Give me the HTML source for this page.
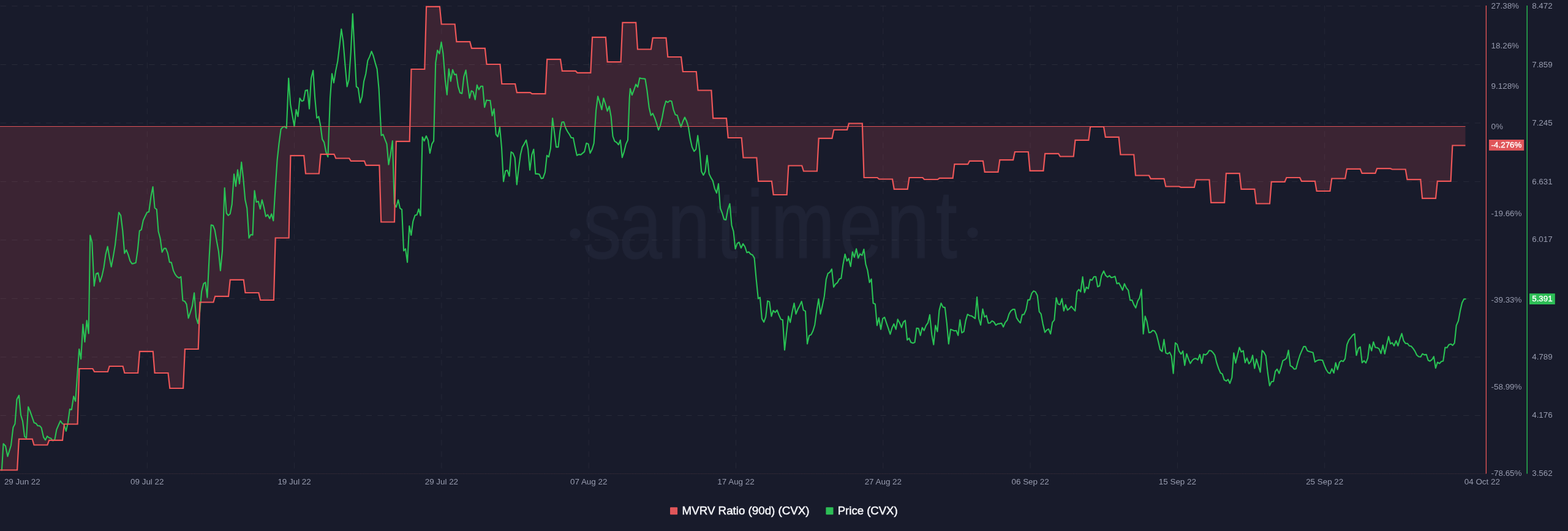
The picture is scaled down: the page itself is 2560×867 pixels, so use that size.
<!DOCTYPE html>
<html lang="en"><head><meta charset="utf-8"><title>MVRV Ratio (90d) (CVX) / Price (CVX)</title>
<style>html,body{margin:0;padding:0;background:#181b2b;}body{width:2560px;height:867px;overflow:hidden;}svg{display:block;}text{font-family:"Liberation Sans",Arial,Helvetica,sans-serif;}</style></head><body>
<svg width="2560" height="867" viewBox="0 0 2560 867">
<rect width="2560" height="867" fill="#181b2b"/>
<g fill="#1f2335" stroke="#1f2335" stroke-width="1.7" stroke-linejoin="round">
<circle cx="939" cy="381.4" r="7.9"/><circle cx="1588" cy="379.9" r="7.9"/>
<text transform="scale(0.8,1)" x="1189.8 1263.3 1361.9 1462.2 1523.5 1573 1712.9 1809.3 1909.7" y="421" font-size="157">santiment</text>
</g>
<path d="M0 767.5 L28.1 767.5 L30.9 716.8 L52.7 716.8 L55.5 726.5 L77.4 726.5 L80.2 718.8 L102 718.8 L104.8 692.5 L126.6 692.5 L129.4 602 L151.3 602 L154.1 607 L175.9 607 L178.7 598 L200.6 598 L203.4 609 L225.2 609 L228 573.8 L249.8 573.8 L252.6 609 L274.5 609 L277.3 634 L299.1 634 L301.9 570 L323.7 570 L326.5 493.5 L348.4 493.5 L351.2 483.8 L373 483.8 L375.8 456.8 L397.7 456.8 L400.5 478 L422.3 478 L425.1 490 L446.9 490 L449.7 388.5 L471.6 388.5 L474.4 254.2 L496.2 254.2 L499 283.5 L520.8 283.5 L523.6 251.8 L545.5 251.8 L548.3 258.5 L570.1 258.5 L572.9 262.8 L594.8 262.8 L597.6 269.8 L619.4 269.8 L622.2 362.5 L644 362.5 L646.8 230.8 L668.7 230.8 L671.5 113 L693.3 113 L696.1 10.8 L717.9 10.8 L720.7 39.5 L742.6 39.5 L745.4 68.2 L767.2 68.2 L770 78.8 L791.8 78.8 L794.6 105 L816.5 105 L819.3 137 L841.1 137 L843.9 151.2 L865.8 151.2 L868.6 153.2 L890.4 153.2 L893.2 96.8 L915 96.8 L917.8 115.8 L939.7 115.8 L942.5 118.8 L964.3 118.8 L967.1 60.8 L988.9 60.8 L991.7 101.2 L1013.6 101.2 L1016.4 36.8 L1038.2 36.8 L1041 80.5 L1062.9 80.5 L1065.7 61.8 L1087.5 61.8 L1090.3 93 L1112.1 93 L1114.9 117 L1136.8 117 L1139.6 147.5 L1161.4 147.5 L1164.2 193.2 L1186 193.2 L1188.8 225 L1210.7 225 L1213.5 257.5 L1235.3 257.5 L1238.1 295.8 L1259.9 295.8 L1262.7 318 L1284.6 318 L1287.4 270.5 L1309.2 270.5 L1312 279.5 L1333.9 279.5 L1336.7 225.8 L1358.5 225.8 L1361.3 212 L1383.1 212 L1385.9 201.5 L1407.8 201.5 L1410.6 290 L1432.4 290 L1435.2 292.5 L1457 292.5 L1459.8 308.8 L1481.7 308.8 L1484.5 290 L1506.3 290 L1509.1 293 L1531 293 L1533.8 290.8 L1555.6 290.8 L1558.4 268.2 L1580.2 268.2 L1583 262.8 L1604.9 262.8 L1607.7 280.8 L1629.5 280.8 L1632.3 261.2 L1654.1 261.2 L1656.9 248 L1678.8 248 L1681.6 278.8 L1703.4 278.8 L1706.2 250.8 L1728.1 250.8 L1730.9 255.5 L1752.7 255.5 L1755.5 228.8 L1777.3 228.8 L1780.1 207 L1802 207 L1804.8 223.8 L1826.6 223.8 L1829.4 252.5 L1851.2 252.5 L1854 286.5 L1875.9 286.5 L1878.7 291.8 L1900.5 291.8 L1903.3 304.5 L1925.1 304.5 L1927.9 305.8 L1949.8 305.8 L1952.6 293.5 L1974.4 293.5 L1977.2 330.8 L1999.1 330.8 L2001.9 283.2 L2023.7 283.2 L2026.5 308.8 L2048.3 308.8 L2051.1 332.5 L2073 332.5 L2075.8 296.8 L2097.6 296.8 L2100.4 290 L2122.2 290 L2125 295.8 L2146.9 295.8 L2149.7 312 L2171.5 312 L2174.3 291.5 L2196.2 291.5 L2199 275.8 L2220.8 275.8 L2223.6 282.8 L2245.4 282.8 L2248.2 275.2 L2270.1 275.2 L2272.9 276.5 L2294.7 276.5 L2297.5 293.2 L2319.3 293.2 L2322.1 323.8 L2344 323.8 L2346.8 295.8 L2368.6 295.8 L2371.4 237.5 L2392.5 237.5 L2392.5 206.4 L0 206.4 Z" fill="#3b2433"/>
<g stroke="#ffffff" stroke-opacity="0.07" stroke-width="1" stroke-dasharray="9.3 9.36" fill="none">
<line x1="0.6" y1="9.9" x2="2417" y2="9.9"/>
<line x1="0.6" y1="105.5" x2="2417" y2="105.5"/>
<line x1="0.6" y1="200.9" x2="2417" y2="200.9"/>
<line x1="0.6" y1="296.4" x2="2417" y2="296.4"/>
<line x1="0.6" y1="391.9" x2="2417" y2="391.9"/>
<line x1="0.6" y1="487.4" x2="2417" y2="487.4"/>
<line x1="0.6" y1="583" x2="2417" y2="583"/>
<line x1="0.6" y1="678.5" x2="2417" y2="678.5"/>
</g>
<g stroke="#ffffff" stroke-opacity="0.06" stroke-width="1" stroke-dasharray="9.3 9.36" fill="none">
<line x1="240.3" y1="9" x2="240.3" y2="773"/>
<line x1="480.6" y1="9" x2="480.6" y2="773"/>
<line x1="720.9" y1="9" x2="720.9" y2="773"/>
<line x1="961.2" y1="9" x2="961.2" y2="773"/>
<line x1="1201.5" y1="9" x2="1201.5" y2="773"/>
<line x1="1441.8" y1="9" x2="1441.8" y2="773"/>
<line x1="1682.1" y1="9" x2="1682.1" y2="773"/>
<line x1="1922.4" y1="9" x2="1922.4" y2="773"/>
<line x1="2162.7" y1="9" x2="2162.7" y2="773"/>
</g>
<line x1="0" y1="773.5" x2="2426" y2="773.5" stroke="#40303d" stroke-width="1" stroke-dasharray="1.2 1.2"/>
<path d="M2.9 767.6 L5.5 724.5 L9 728.2 L12.5 745.2 L18 727.2 L21.5 697.7 L24.5 691.9 L27.5 651.9 L31 645.6 L34 677.6 L37 687.7 L40.1 712.7 L43.1 715.2 L46.1 664.4 L49.1 671.4 L55.6 690.2 L58.6 691.2 L61.6 695.2 L64.6 695.2 L67.6 698.4 L71.1 713.9 L74.1 718.4 L77.1 712.2 L80.1 714.7 L83.1 715.7 L86.4 719.7 L89.4 717.7 L92.4 701.4 L98.6 687.2 L101.6 691.4 L104.6 693.2 L107.9 703.9 L110.9 690.2 L113.9 668.1 L116.9 668.9 L120.2 647.1 L123.2 655.1 L129.2 570 L132.2 586.3 L135.4 529.5 L138.4 558.3 L141.7 523.2 L144.7 544.5 L147.2 384.3 L150.2 395.6 L153.7 466.9 L156.9 446.9 L160.2 445.6 L163.2 460.1 L166.5 450.6 L169.5 436.9 L172.5 415.6 L175.7 402.6 L178.7 420.6 L181.7 435.6 L185 418.1 L188 400.1 L191 373 L194 346.8 L197.2 351.8 L200.3 376.8 L203.3 413.6 L206.3 408.1 L209.3 415.6 L212.5 426.4 L215.5 430.6 L218.5 430.1 L221.8 428.9 L224.8 408.1 L227.8 376.8 L230.8 375 L233.8 360 L237 353 L240.1 346.8 L243.1 346 L246.6 320 L249.6 305 L252.6 339.5 L255.8 341.8 L258.6 378 L261.6 389.3 L264.6 411.8 L267.8 405.6 L270.8 405.6 L273.8 413.1 L276.8 428.1 L279.8 428.6 L283.1 441.9 L286.1 448.1 L289.1 451.9 L292.4 453.9 L295.4 451.9 L298.4 490.7 L301.6 491.9 L304.6 496.9 L307.6 519.5 L310.9 509.5 L313.9 499.4 L317.1 478.2 L320.2 518.2 L323.2 528.2 L326.2 509.5 L329.2 475.7 L332.4 463.2 L335.4 461.1 L338.4 485.7 L341.7 418.1 L344.7 367.3 L347.7 368 L350.7 375.5 L353.7 393.1 L356.9 410.6 L359.9 441.9 L363 409.3 L366.7 306.7 L369.7 348 L372.7 351.8 L375.7 349.3 L378.7 333.8 L382 284.2 L385 304.2 L388 277.4 L391 300 L394.2 264.9 L397.2 291.2 L400.3 326.3 L403.3 340 L406.5 388.6 L409.5 383.1 L412.5 383.8 L415.5 311.2 L418.5 330 L421.8 328.8 L424.8 341.3 L427.8 326.3 L431 338.8 L434 353.5 L437 350.5 L440.3 356.8 L443.3 349.3 L446.3 360.5 L449.3 311.2 L452.6 261.2 L455.6 233.6 L458.6 211.1 L461.8 207.4 L464.8 206.6 L467.8 209.4 L471.2 127.7 L474.2 170.2 L477.2 187.7 L480.5 206.5 L483.5 179 L486.5 190.2 L489.5 160.2 L492.7 165.2 L495.7 164 L498.7 147.7 L502 146.9 L505 177.7 L508 127.7 L511.2 115.1 L514.2 160.2 L517.2 192.7 L520.3 190.2 L523.3 205.3 L526.2 227.4 L529.2 232.4 L532.4 248.7 L535.4 256.2 L539 160.2 L542 120.2 L545 135.2 L548 116.4 L551.3 100.1 L554.3 75.1 L557.3 47.6 L560.3 67.6 L563.6 107.6 L566.6 141.4 L569.6 130.2 L572.8 85.1 L575.8 22.5 L578.8 82.6 L581.8 141.4 L584.8 143.9 L588.1 167.7 L591.1 157.7 L594.1 132.7 L597.3 120.2 L600.4 98.9 L603.4 92.6 L606.6 83.9 L609.6 91.4 L612.6 102.6 L615.6 112.6 L618.6 145.2 L622.5 221.3 L625.5 219.5 L628.5 227.5 L631.5 235.1 L634.5 268.8 L637.5 252.6 L640.8 230.1 L643.8 332.7 L646.8 338.2 L650.1 326.4 L653.1 340.2 L656.1 342.2 L659.1 409.5 L662.1 406.3 L665.1 428.3 L668.3 369 L671.3 384 L674.3 361.5 L677.6 351.5 L680.6 350.7 L683.6 341.4 L686.6 352.2 L689.6 223.8 L692.6 230.1 L695.9 222 L698.9 228.8 L701.9 250.1 L705.1 235.1 L708.1 230.1 L711.2 102.6 L714.2 82.1 L717.5 87.6 L720.5 68.8 L723.5 87.6 L726.8 130.2 L729.8 154.7 L732.8 112.6 L735.8 132.7 L739 113.9 L742 121.9 L745 121.4 L748 141.4 L751 151.4 L754.3 152.7 L757.3 125.2 L760.6 114.6 L763.6 138.9 L766.6 160.2 L769.6 148.2 L772.6 150.2 L775.8 162.7 L778.8 138.9 L781.8 146.4 L785.1 140.7 L788.1 140.7 L791.1 175.2 L794.3 163.5 L797.3 164 L800.4 164 L803.6 189 L806.6 177.7 L809.8 219.5 L812.8 223.3 L816 207.5 L819 241.3 L822 296.4 L825.3 278.9 L828.3 278.1 L831.5 287.6 L834.5 248.1 L837.5 250.1 L840.6 257.6 L843.8 301.4 L846.8 275.1 L849.8 252.6 L852.8 240.1 L855.8 235.1 L859.1 228.8 L862.1 243.8 L865.1 277.6 L868.3 252.6 L871.3 243.8 L874.3 283.9 L877.3 283.9 L880.6 284.6 L883.6 291.4 L886.6 290.9 L889.9 281.4 L892.9 253.8 L895.9 256.3 L898.9 242.6 L902.1 193 L905.1 216.3 L908.1 240.1 L911.4 240.1 L914.4 213.8 L917.4 199.5 L920.4 199 L923.7 209.5 L926.7 215 L929.7 219.5 L932.7 225 L935.9 225 L938.9 240.1 L941.9 253.8 L944.9 252.1 L948.2 252.6 L951.2 250.1 L954.2 247.6 L957.4 233.8 L960.5 235.1 L963.5 250.1 L966.7 243.8 L969.7 233.8 L973.1 180.2 L976.1 157.2 L979.3 167.7 L982.4 179 L985.4 160.2 L988.6 170.2 L991.6 181.5 L994.6 173.5 L997.6 190.2 L1000.5 222.5 L1003.5 230.6 L1006.8 232.6 L1009.8 236.3 L1012.8 228.8 L1015.8 257.1 L1019 247.6 L1022 235.1 L1025 228.8 L1027.7 160.2 L1028.9 144.7 L1031.9 155.2 L1035.2 146.4 L1038.2 137.7 L1041.2 142.2 L1044.4 127.2 L1047.4 128.2 L1050.4 128.4 L1053.4 128.9 L1056.4 147.7 L1059.7 175.2 L1062.7 188.5 L1065.7 185.2 L1069 192.7 L1072 201.5 L1075 212.3 L1078 205.3 L1081.2 191.5 L1084.2 175.2 L1087.2 165.2 L1090.2 167.2 L1093.5 164.5 L1096.5 165.2 L1099.5 179 L1102.5 187.2 L1105.8 188.2 L1108.8 198.5 L1111.8 207.3 L1114.8 198.5 L1118 191.5 L1121 197.7 L1124 207.8 L1126.9 226.3 L1129.9 240.1 L1133.2 247.1 L1136.2 243.8 L1139.2 221.3 L1142.2 245.1 L1145.2 280.1 L1148.4 285.9 L1151.4 280.1 L1154.4 253.8 L1157.7 283.9 L1160.7 290.1 L1163.7 295.1 L1166.7 307.6 L1170 315.2 L1173 300.1 L1176 340.2 L1179 347.7 L1182.2 358.2 L1185.2 359 L1188.2 342.7 L1191.5 332.7 L1194.5 367.7 L1197.5 377.7 L1200.6 406.3 L1203.6 397.5 L1206.6 395.5 L1209.9 405 L1213.1 398 L1216.1 402.5 L1219.4 412.5 L1222.4 411.3 L1225.6 415 L1228.6 416.3 L1231.6 421.3 L1234.6 455.1 L1237.9 487.6 L1240.9 485.6 L1243.9 520.2 L1247.2 525.9 L1250.2 517.7 L1253.2 491.4 L1256.2 492.6 L1259.4 516.4 L1262.4 507.1 L1265.7 510.2 L1268.7 506.4 L1271.7 514.4 L1274.9 521.4 L1277.9 522.2 L1281 571.5 L1284.2 542.7 L1287.2 516.4 L1290.2 526.4 L1293.2 510.2 L1296.5 495.1 L1299.5 512.7 L1302.5 505.1 L1305.7 498.9 L1308.7 492.1 L1311.7 506.4 L1315 508.1 L1318 561.5 L1321 548.2 L1324.3 546.4 L1327.3 540.2 L1330.3 530.2 L1333.3 507.6 L1336.5 488.1 L1339.5 512.7 L1342.5 500.1 L1345.8 483.9 L1348.8 456.3 L1351.8 446.3 L1354.8 444.6 L1358 439.3 L1361.1 468.8 L1364.1 463.8 L1367.3 461.3 L1370.3 455.6 L1373.3 454.6 L1376.3 432.6 L1379.6 415 L1382.6 426.3 L1385.6 422 L1388.8 435.1 L1391.8 411.3 L1394.8 420 L1398.1 406.3 L1401.1 421.3 L1404.1 414.5 L1407.4 417 L1410.4 407 L1413.4 431.3 L1416.4 441.3 L1419.6 461.3 L1422.6 455.6 L1425.6 495.1 L1428.9 496.4 L1431.9 531.4 L1434.9 518.9 L1438.1 537.7 L1441.2 520.2 L1444.2 518.2 L1447.2 527.2 L1450.4 536.4 L1453.4 545.7 L1456.4 535.2 L1459.4 528.9 L1462.7 537.7 L1465.7 521.4 L1468.7 527.2 L1471.9 534.7 L1474.9 525.9 L1477.9 523.2 L1481.2 555.2 L1484.2 552.2 L1487.2 559 L1490.5 560.2 L1493.5 559 L1496.5 535.7 L1499.7 536.4 L1502.7 547.7 L1505.7 534.7 L1508.7 539.7 L1512 531.4 L1515 527.2 L1518 513.9 L1521.3 546.4 L1524.3 562.7 L1527.3 531.4 L1530.5 541.4 L1533.5 506.4 L1536.5 495.1 L1539.5 501.4 L1542.8 502.1 L1545.8 527.7 L1548.8 561.5 L1552 537.7 L1555 538.9 L1558 540.2 L1561.3 539.7 L1564.3 547.7 L1567.3 522.2 L1570.3 543.4 L1573.6 541.4 L1576.6 523.9 L1579.6 513.2 L1582.8 515.2 L1585.8 515.7 L1588.8 517.7 L1592.1 520.2 L1595.1 485.1 L1598.1 520.2 L1601.1 530.7 L1604.4 504.6 L1607.4 517.7 L1610.4 515.2 L1613.6 527.7 L1616.6 527.2 L1619.6 523.9 L1622.9 525.9 L1625.9 530.9 L1628.9 528.9 L1631.9 528.4 L1635.1 527.7 L1638.1 533.9 L1641.2 526.4 L1644.4 522.7 L1647.4 512.7 L1650.4 507.6 L1653.7 505.1 L1656.7 505.1 L1659.7 518.9 L1662.9 523.9 L1665.9 527.2 L1668.9 513.9 L1671.9 513.4 L1675.2 505.6 L1678.2 489.6 L1681.2 489.6 L1684.5 478.9 L1687.5 475.1 L1690.5 476.4 L1693.7 482.6 L1696.7 508.9 L1699.7 512.7 L1702.7 528.9 L1706 542.7 L1709 538.9 L1712 537.2 L1715.2 545.2 L1718.2 526.4 L1721.3 522.7 L1724.5 486.4 L1727.5 496.4 L1730.5 497.6 L1733.8 487.6 L1736.8 507.6 L1739.8 497.6 L1742.8 506.4 L1746 503.9 L1749 500.1 L1752 503.9 L1755.3 507.6 L1758.3 476.4 L1761.3 472.6 L1764.3 476.4 L1767.6 452.1 L1770.6 477.6 L1773.6 468.8 L1776.8 471.4 L1779.8 456.3 L1782.8 457.6 L1786.1 451.8 L1789.1 451.8 L1792.1 468.3 L1795.3 466.8 L1798.3 450.1 L1802 442.5 L1805 449.5 L1808.3 452.5 L1811.3 450 L1814.3 453.3 L1817.5 452.5 L1820.5 451.3 L1823.5 463.3 L1826.8 462 L1829.8 467.5 L1832.8 473.8 L1835.8 463.3 L1839 470.1 L1842.1 473.8 L1845.1 490.1 L1848.3 490.1 L1851.3 497.6 L1854.3 502.6 L1857.6 491.3 L1860.6 486.3 L1863.6 472.6 L1866.6 545.1 L1869.6 516.4 L1872.6 525.1 L1875.8 543.1 L1878.8 542.6 L1881.9 539.6 L1885.1 540.6 L1888.1 545.9 L1891.1 557.7 L1894.1 570.9 L1897.4 573.9 L1900.4 554.4 L1903.4 576.4 L1906.6 577.7 L1909.6 575.2 L1912.6 581.4 L1915.6 609.7 L1918.9 559.7 L1921.9 562.2 L1924.9 573.2 L1928.2 578.2 L1931.2 573.2 L1934.2 596.5 L1937.4 577.7 L1940.4 586.4 L1943.4 593.5 L1946.7 588.2 L1949.7 585.7 L1952.7 585.2 L1955.7 587.7 L1958.9 578.9 L1962 593.2 L1965 578.2 L1968.2 579.4 L1971.2 577.2 L1974.2 572.2 L1977.5 572.7 L1980.5 575.9 L1983.5 580.2 L1986.5 592.7 L1989.7 602.2 L1992.7 609 L1995.7 610.7 L1998.7 620.2 L2002 622.2 L2005 619.5 L2008 626 L2011.3 616.5 L2014.3 576.4 L2017.3 592.7 L2020.5 579.4 L2023.5 567.2 L2026.5 574.7 L2029.8 572.7 L2032.8 592.2 L2035.8 584.7 L2039 594 L2042.1 590.2 L2045.1 580.2 L2048.3 601.5 L2051.3 586.4 L2054.3 596.5 L2057.6 607.7 L2060.6 572.2 L2063.6 575.2 L2066.6 580.9 L2069.8 609 L2072.8 629.7 L2075.8 623.2 L2079.1 622.7 L2082.1 606.5 L2085.1 602.7 L2088.4 609.7 L2091.4 600.2 L2094.4 588.9 L2097.6 587.2 L2100.6 584.7 L2103.6 571.9 L2106.6 597.2 L2109.9 599 L2112.9 602.7 L2115.9 602.2 L2119.1 590.2 L2122.2 580.2 L2125.2 573.2 L2128.4 565.9 L2131.4 565.9 L2134.4 572.7 L2137.7 573.9 L2140.7 574.7 L2143.7 575.7 L2146.9 591 L2149.9 588.9 L2152.9 587.7 L2155.9 587.7 L2159.2 588.2 L2162.2 596.5 L2165.2 603.5 L2168.5 608.5 L2171.5 609.7 L2174.5 602.2 L2177.7 609 L2180.7 592.2 L2183.7 603.5 L2187 591.5 L2190 588.9 L2193 590.2 L2196 585.9 L2199.2 562.7 L2202.3 555.2 L2205.3 551.4 L2208.5 547.1 L2211.5 545.1 L2214.5 580.2 L2217.8 568.9 L2220.8 566.4 L2223.8 592.2 L2227 588.9 L2230 592.7 L2233 585.2 L2236 562.2 L2239.3 572.7 L2242.3 558.2 L2245.3 567.2 L2248.6 567.7 L2251.6 569.7 L2254.6 577.2 L2257.8 563.4 L2260.8 577.7 L2263.8 563.9 L2267.1 549.6 L2270.1 561.4 L2273.1 559.7 L2276.1 564.7 L2279.3 556.4 L2282.4 564.7 L2285.4 553.9 L2288.6 544.6 L2291.6 556.4 L2294.6 560.7 L2297.9 560.9 L2300.9 564.7 L2303.9 565.2 L2307.1 568.9 L2310.1 573.4 L2313.1 579.7 L2316.1 582.2 L2319.4 582.7 L2322.4 577.7 L2325.4 579.4 L2328.7 578.9 L2331.7 588.2 L2334.7 589.7 L2337.9 587.2 L2340.9 582.2 L2343.9 601 L2346.9 591.5 L2350.2 593.5 L2353.2 590.2 L2356.2 589.4 L2359.4 567.2 L2362.5 567.7 L2365.5 562.7 L2368.7 561.7 L2371.7 563.9 L2374.7 560.2 L2377.7 531.4 L2381 523.9 L2384 507.6 L2387 494.6 L2390.2 488.3 L2392.7 488.3" fill="none" stroke="#29c254" stroke-width="2.1" stroke-linejoin="round" stroke-linecap="round"/>
<line x1="0" y1="206.4" x2="2392.5" y2="206.4" stroke="#de5357" stroke-width="1.05"/>
<path d="M0 767.5 L28.1 767.5 L30.9 716.8 L52.7 716.8 L55.5 726.5 L77.4 726.5 L80.2 718.8 L102 718.8 L104.8 692.5 L126.6 692.5 L129.4 602 L151.3 602 L154.1 607 L175.9 607 L178.7 598 L200.6 598 L203.4 609 L225.2 609 L228 573.8 L249.8 573.8 L252.6 609 L274.5 609 L277.3 634 L299.1 634 L301.9 570 L323.7 570 L326.5 493.5 L348.4 493.5 L351.2 483.8 L373 483.8 L375.8 456.8 L397.7 456.8 L400.5 478 L422.3 478 L425.1 490 L446.9 490 L449.7 388.5 L471.6 388.5 L474.4 254.2 L496.2 254.2 L499 283.5 L520.8 283.5 L523.6 251.8 L545.5 251.8 L548.3 258.5 L570.1 258.5 L572.9 262.8 L594.8 262.8 L597.6 269.8 L619.4 269.8 L622.2 362.5 L644 362.5 L646.8 230.8 L668.7 230.8 L671.5 113 L693.3 113 L696.1 10.8 L717.9 10.8 L720.7 39.5 L742.6 39.5 L745.4 68.2 L767.2 68.2 L770 78.8 L791.8 78.8 L794.6 105 L816.5 105 L819.3 137 L841.1 137 L843.9 151.2 L865.8 151.2 L868.6 153.2 L890.4 153.2 L893.2 96.8 L915 96.8 L917.8 115.8 L939.7 115.8 L942.5 118.8 L964.3 118.8 L967.1 60.8 L988.9 60.8 L991.7 101.2 L1013.6 101.2 L1016.4 36.8 L1038.2 36.8 L1041 80.5 L1062.9 80.5 L1065.7 61.8 L1087.5 61.8 L1090.3 93 L1112.1 93 L1114.9 117 L1136.8 117 L1139.6 147.5 L1161.4 147.5 L1164.2 193.2 L1186 193.2 L1188.8 225 L1210.7 225 L1213.5 257.5 L1235.3 257.5 L1238.1 295.8 L1259.9 295.8 L1262.7 318 L1284.6 318 L1287.4 270.5 L1309.2 270.5 L1312 279.5 L1333.9 279.5 L1336.7 225.8 L1358.5 225.8 L1361.3 212 L1383.1 212 L1385.9 201.5 L1407.8 201.5 L1410.6 290 L1432.4 290 L1435.2 292.5 L1457 292.5 L1459.8 308.8 L1481.7 308.8 L1484.5 290 L1506.3 290 L1509.1 293 L1531 293 L1533.8 290.8 L1555.6 290.8 L1558.4 268.2 L1580.2 268.2 L1583 262.8 L1604.9 262.8 L1607.7 280.8 L1629.5 280.8 L1632.3 261.2 L1654.1 261.2 L1656.9 248 L1678.8 248 L1681.6 278.8 L1703.4 278.8 L1706.2 250.8 L1728.1 250.8 L1730.9 255.5 L1752.7 255.5 L1755.5 228.8 L1777.3 228.8 L1780.1 207 L1802 207 L1804.8 223.8 L1826.6 223.8 L1829.4 252.5 L1851.2 252.5 L1854 286.5 L1875.9 286.5 L1878.7 291.8 L1900.5 291.8 L1903.3 304.5 L1925.1 304.5 L1927.9 305.8 L1949.8 305.8 L1952.6 293.5 L1974.4 293.5 L1977.2 330.8 L1999.1 330.8 L2001.9 283.2 L2023.7 283.2 L2026.5 308.8 L2048.3 308.8 L2051.1 332.5 L2073 332.5 L2075.8 296.8 L2097.6 296.8 L2100.4 290 L2122.2 290 L2125 295.8 L2146.9 295.8 L2149.7 312 L2171.5 312 L2174.3 291.5 L2196.2 291.5 L2199 275.8 L2220.8 275.8 L2223.6 282.8 L2245.4 282.8 L2248.2 275.2 L2270.1 275.2 L2272.9 276.5 L2294.7 276.5 L2297.5 293.2 L2319.3 293.2 L2322.1 323.8 L2344 323.8 L2346.8 295.8 L2368.6 295.8 L2371.4 237.5 L2392.5 237.5" fill="none" stroke="#ec5658" stroke-width="2.2" stroke-linejoin="miter"/>
<line x1="2426.4" y1="9" x2="2426.4" y2="773.5" stroke="#ec5658" stroke-width="1.3"/>
<line x1="2493.2" y1="9" x2="2493.2" y2="773.5" stroke="#29c254" stroke-width="1.4"/>
<text x="2434.6" y="13.6" font-size="13.4" fill="#979bae" text-anchor="start">27.38%</text>
<text x="2434.6" y="79.3" font-size="13.4" fill="#979bae" text-anchor="start">18.26%</text>
<text x="2434.6" y="145.3" font-size="13.4" fill="#979bae" text-anchor="start">9.128%</text>
<text x="2434.6" y="210.8" font-size="13.4" fill="#979bae" text-anchor="start">0%</text>
<text x="2434.6" y="352.6" font-size="13.4" fill="#979bae" text-anchor="start">-19.66%</text>
<text x="2434.6" y="494.1" font-size="13.4" fill="#979bae" text-anchor="start">-39.33%</text>
<text x="2434.6" y="636.1" font-size="13.4" fill="#979bae" text-anchor="start">-58.99%</text>
<text x="2434.6" y="777.1" font-size="13.4" fill="#979bae" text-anchor="start">-78.65%</text>
<text x="2501.2" y="13.6" font-size="13.4" fill="#979bae" text-anchor="start">8.472</text>
<text x="2501.2" y="109.9" font-size="13.4" fill="#979bae" text-anchor="start">7.859</text>
<text x="2501.2" y="204.6" font-size="13.4" fill="#979bae" text-anchor="start">7.245</text>
<text x="2501.2" y="300.5" font-size="13.4" fill="#979bae" text-anchor="start">6.631</text>
<text x="2501.2" y="395.3" font-size="13.4" fill="#979bae" text-anchor="start">6.017</text>
<text x="2501.2" y="586.5" font-size="13.4" fill="#979bae" text-anchor="start">4.789</text>
<text x="2501.2" y="682.1" font-size="13.4" fill="#979bae" text-anchor="start">4.176</text>
<text x="2501.2" y="777.1" font-size="13.4" fill="#979bae" text-anchor="start">3.562</text>
<rect x="2431" y="228" width="57.2" height="17.8" fill="#e0565a"/>
<text x="2434.6" y="241.4" font-size="13.4" fill="#ffffff" text-anchor="start" stroke="#ffffff" stroke-width="0.35">-4.276%</text>
<rect x="2497" y="479.2" width="41.8" height="17.8" fill="#2dbe56"/>
<text x="2501.2" y="492.4" font-size="13.4" fill="#ffffff" text-anchor="start" stroke="#ffffff" stroke-width="0.35">5.391</text>
<text x="6.9" y="790.8" font-size="13.4" fill="#979bae" text-anchor="start">29 Jun 22</text>
<text x="240.3" y="790.8" font-size="13.4" fill="#979bae" text-anchor="middle">09 Jul 22</text>
<text x="480.6" y="790.8" font-size="13.4" fill="#979bae" text-anchor="middle">19 Jul 22</text>
<text x="720.9" y="790.8" font-size="13.4" fill="#979bae" text-anchor="middle">29 Jul 22</text>
<text x="961.2" y="790.8" font-size="13.4" fill="#979bae" text-anchor="middle">07 Aug 22</text>
<text x="1201.5" y="790.8" font-size="13.4" fill="#979bae" text-anchor="middle">17 Aug 22</text>
<text x="1441.8" y="790.8" font-size="13.4" fill="#979bae" text-anchor="middle">27 Aug 22</text>
<text x="1682.1" y="790.8" font-size="13.4" fill="#979bae" text-anchor="middle">06 Sep 22</text>
<text x="1922.4" y="790.8" font-size="13.4" fill="#979bae" text-anchor="middle">15 Sep 22</text>
<text x="2162.7" y="790.8" font-size="13.4" fill="#979bae" text-anchor="middle">25 Sep 22</text>
<text x="2419.8" y="790.8" font-size="13.4" fill="#979bae" text-anchor="middle">04 Oct 22</text>
<rect x="1094" y="828.2" width="12.1" height="12.1" rx="1" fill="#e0565a"/>
<text x="1113.6" y="840.1" font-size="18.4" fill="#f3f4f8" stroke="#f3f4f8" stroke-width="0.5" textLength="208" lengthAdjust="spacingAndGlyphs">MVRV Ratio (90d) (CVX)</text>
<rect x="1348.4" y="828.2" width="12.1" height="12.1" rx="1" fill="#2dbe56"/>
<text x="1367.7" y="840.1" font-size="18.4" fill="#f3f4f8" stroke="#f3f4f8" stroke-width="0.5" textLength="98" lengthAdjust="spacingAndGlyphs">Price (CVX)</text>
</svg></body></html>
